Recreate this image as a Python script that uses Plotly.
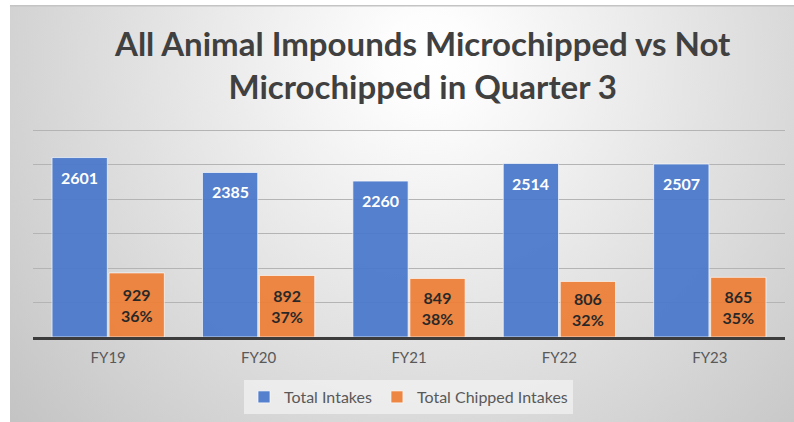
import base64
import plotly.graph_objects as go

categories = ["FY19", "FY20", "FY21", "FY22", "FY23"]
total_intakes = [2601, 2385, 2260, 2514, 2507]
chipped_intakes = [929, 892, 849, 806, 865]
chipped_pct = ["36%", "37%", "38%", "32%", "35%"]
title_lines = ["All Animal Impounds Microchipped vs Not", "Microchipped in Quarter 3"]
grid_vals = [500, 1000, 1500, 2000, 2500, 3000]

W, H = 794, 422
ML, MR, MT, MB = 33, 9, 129, 85
PW, PH = W - ML - MR, H - MT - MB

svg = (
    '<svg xmlns="http://www.w3.org/2000/svg" width="784" height="417" viewBox="0 0 784 417" '
    'preserveAspectRatio="none"><defs><radialGradient id="g" cx="420" cy="55" r="560" '
    'gradientUnits="userSpaceOnUse"><stop offset="0" stop-color="#ffffff"/>'
    '<stop offset="0.08" stop-color="#fdfdfd"/>'
    '<stop offset="1" stop-color="#c3c3c3"/></radialGradient></defs>'
    '<rect width="784" height="417" fill="url(#g)"/>'
    '<rect x="0" y="0" width="784" height="1.5" fill="#c4c4c4"/></svg>'
)
src = "data:image/svg+xml;base64," + base64.b64encode(svg.encode()).decode()

fig = go.Figure()
fig.add_trace(go.Bar(
    name="Total Intakes", x=categories, y=total_intakes,
    marker=dict(color="rgb(73,120,203)", line=dict(color="rgba(255,255,255,0.7)", width=1)),
    opacity=0.93,
))
fig.add_trace(go.Bar(
    name="Total Chipped Intakes", x=categories, y=chipped_intakes,
    text=[f"<b>{v}</b><br><b>{p}</b>" for v, p in zip(chipped_intakes, chipped_pct)],
    textposition="inside", insidetextanchor="middle",
    textfont=dict(family="Lato", size=16, color="#1a1a1a"),
    marker=dict(color="rgb(238,127,55)", line=dict(color="rgba(255,255,255,0.7)", width=1)),
    opacity=0.93,
))

for c, v in zip(categories, total_intakes):
    fig.add_annotation(x=c, y=v, xref="x", yref="y", text=f"<b>{v}</b>", showarrow=False,
                       yanchor="top", yshift=-8, xshift=-28.5,
                       font=dict(family="Lato", size=16, color="#ffffff"))

fig.add_annotation(text="<b>" + "<br>".join(title_lines) + "</b>", showarrow=False,
                   xref="paper", yref="paper", x=(422 - ML) / PW, y=(MT + PH - 21) / PH,
                   xanchor="center", yanchor="top", align="center",
                   font=dict(family="Lato", size=33, color="#404040"))

fig.add_layout_image(dict(
    source=src, xref="paper", yref="paper",
    x=(10 - ML) / PW, y=(MT + PH - 5) / PH, sizex=784 / PW, sizey=417 / PH,
    xanchor="left", yanchor="top", sizing="stretch", layer="below",
))

fig.update_layout(
    width=W, height=H,
    margin=dict(l=ML, r=MR, t=MT, b=MB, autoexpand=False),
    paper_bgcolor="#ffffff", plot_bgcolor="rgba(0,0,0,0)",
    barmode="group", bargap=0.242, bargroupgap=0.03,
    legend=dict(orientation="h", x=(408.5 - ML) / PW, y=(MT + PH - 397) / PH,
                xanchor="center", yanchor="middle",
                bgcolor="rgba(244,244,244,0.7)", font=dict(family="Lato", size=16, color="#595959"),
                traceorder="normal"),
    showlegend=True,
    font=dict(family="Lato"),
)
fig.update_xaxes(showline=True, linecolor="#3c3c3c", linewidth=2.5, ticks="",
                 ticklabelstandoff=5,
                 tickfont=dict(family="Lato", size=15, color="#595959"), showgrid=False)
fig.update_yaxes(range=[0, 3015], tickvals=grid_vals,
                 showticklabels=False, gridcolor="#b4b4b4",
                 gridwidth=1, zeroline=False, ticks="")

fig.write_html("out.html", config={"displayModeBar": False},
               post_script="document.body.style.margin='0';document.body.style.padding='0';")
